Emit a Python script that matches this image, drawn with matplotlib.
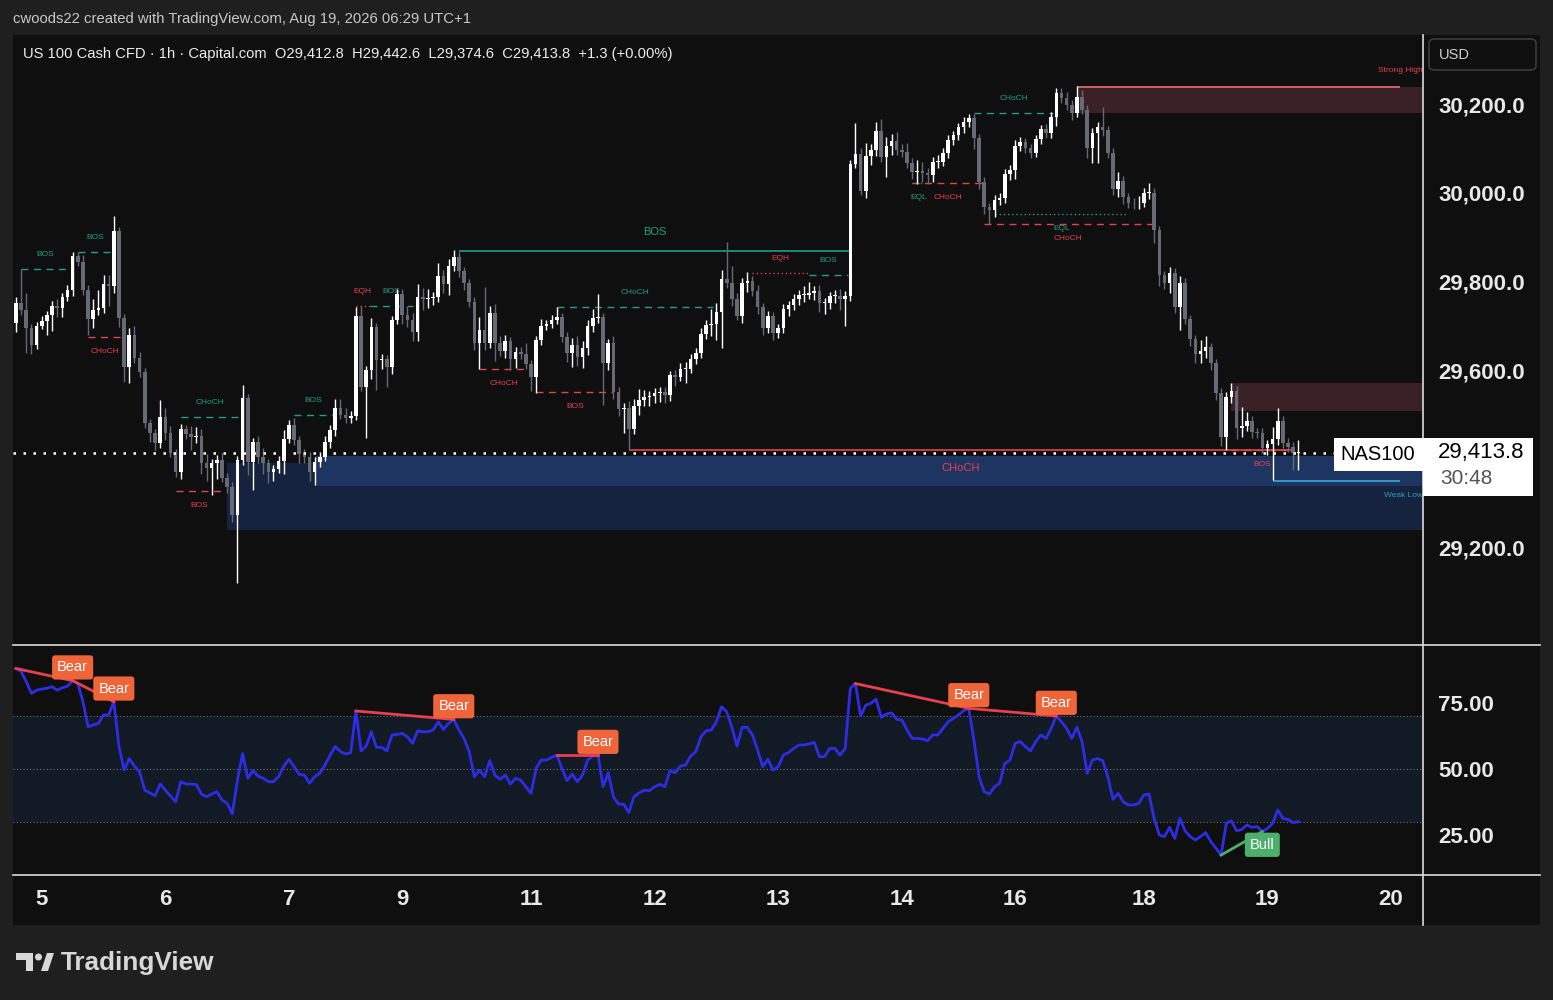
import matplotlib
matplotlib.use('Agg')
import matplotlib.pyplot as plt
import numpy as np
from matplotlib.patches import Rectangle, FancyBboxPatch, Polygon, Ellipse
from matplotlib.lines import Line2D

plt.rcParams['font.family'] = ['Liberation Sans', 'DejaVu Sans']

# ---------------- data (1h bars) ----------------
first_open = 29706
closes = [
    29751, 29735, 29695, 29657, 29700, 29710, 29724, 29745, 29740, 29765,
    29780, 29857, 29845, 29780, 29715, 29735, 29740, 29795, 29790, 29914,
    29717, 29607, 29680, 29627, 29595, 29480, 29458, 29435, 29495, 29458,
    29413, 29370, 29467, 29455, 29450, 29452, 29390, 29380, 29390, 29398,
    29357, 29337, 29273, 29397, 29537, 29393, 29437, 29405, 29390, 29370,
    29377, 29395, 29445, 29476, 29442, 29410, 29405, 29370, 29392, 29405,
    29437, 29466, 29515, 29499, 29493, 29497, 29722, 29562, 29600, 29697,
    29623, 29625, 29607, 29713, 29772, 29724, 29713, 29686, 29765, 29760,
    29762, 29765, 29812, 29794, 29835, 29855, 29823, 29796, 29754, 29661,
    29690, 29661, 29729, 29661, 29643, 29665, 29625, 29641, 29637, 29614,
    29584, 29668, 29700, 29704, 29713, 29720, 29675, 29638, 29657, 29630,
    29650, 29700, 29717, 29719, 29616, 29661, 29551, 29512, 29515, 29467,
    29519, 29533, 29540, 29542, 29548, 29551, 29545, 29589, 29585, 29602,
    29603, 29625, 29638, 29681, 29702, 29704, 29731, 29805, 29796, 29760,
    29722, 29796, 29801, 29778, 29742, 29695, 29722, 29684, 29695, 29738,
    29747, 29760, 29769, 29770, 29774, 29778, 29751, 29752, 29767, 29768,
    29760, 29767, 30065, 30087, 30004, 30083, 30096, 30139, 30081, 30105,
    30117, 30096, 30092, 30067, 30047, 30049, 30045, 30040, 30069, 30070,
    30090, 30119, 30130, 30148, 30159, 30168, 30123, 30024, 29968, 29961,
    29984, 29988, 30042, 30051, 30105, 30114, 30101, 30090, 30121, 30144,
    30135, 30171, 30225, 30213, 30198, 30180, 30216, 30187, 30101, 30135,
    30148, 30141, 30090, 30008, 30026, 29990, 29977, 29976, 29978, 29999,
    30000, 29916, 29814, 29797, 29819, 29742, 29797, 29715, 29670, 29636,
    29643, 29652, 29616, 29548, 29449, 29539, 29553, 29469, 29474, 29485,
    29460, 29459, 29424, 29433, 29444, 29485, 29436, 29427, 29412.8, 29413.8,
]
# wick lengths beyond the body, in index points
upper_wick = [
    14, 77, 40, 10, 8, 12, 10, 10, 15, 10,
    12, 10, 10, 15, 12, 25, 40, 20, 20, 33,
    10, 10, 15, 20, 15, 10, 10, 10, 38, 20,
    15, 10, 12, 10, 20, 20, 15, 20, 10, 10,
    15, 10, 10, 10, 29, 10, 10, 15, 20, 10,
    10, 12, 20, 12, 15, 10, 12, 10, 12, 10,
    15, 10, 20, 20, 15, 10, 20, 22, 10, 20,
    10, 12, 10, 10, 12, 12, 20, 15, 30, 20,
    22, 12, 30, 15, 15, 15, 11, 10, 10, 12,
    30, 97, 15, 20, 15, 15, 10, 12, 12, 25,
    10, 10, 15, 10, 12, 22, 10, 10, 15, 20,
    15, 12, 20, 52, 10, 10, 15, 10, 12, 15,
    15, 25, 15, 10, 12, 10, 10, 10, 12, 15,
    15, 12, 12, 15, 12, 35, 20, 20, 84, 40,
    15, 12, 20, 12, 15, 10, 12, 10, 10, 12,
    10, 12, 12, 20, 25, 12, 15, 10, 10, 12,
    15, 12, 8, 70, 15, 30, 15, 20, 27, 20,
    15, 20, 15, 20, 12, 25, 20, 12, 12, 15,
    10, 12, 10, 10, 12, 9, 10, 10, 12, 10,
    12, 12, 12, 12, 15, 12, 10, 10, 10, 10,
    12, 12, 12, 12, 15, 12, 25, 15, 10, 12,
    12, 45, 10, 10, 20, 12, 10, 12, 15, 12,
    22, 10, 10, 10, 13, 12, 15, 10, 10, 10,
    25, 25, 10, 10, 12, 12, 18, 12, 43, 21,
    12, 10, 10, 10, 28, 29, 12, 12, 10, 28.8,
]
lower_wick = [
    20, 10, 57, 20, 10, 8, 30, 35, 20, 20,
    10, 12, 10, 10, 35, 20, 10, 10, 45, 15,
    20, 34, 35, 10, 10, 10, 20, 15, 10, 15,
    10, 10, 15, 10, 30, 15, 25, 30, 62, 35,
    10, 15, 15, 153, 10, 30, 63, 15, 25, 25,
    20, 10, 30, 10, 10, 20, 15, 20, 29, 10,
    10, 12, 15, 10, 12, 12, 10, 10, 115, 20,
    68, 20, 45, 15, 10, 20, 15, 20, 20, 25,
    20, 15, 12, 20, 25, 12, 12, 15, 12, 15,
    59, 15, 12, 40, 12, 15, 25, 20, 12, 12,
    30, 36, 12, 10, 10, 10, 12, 20, 30, 20,
    25, 15, 15, 10, 95, 15, 15, 15, 54, 47,
    10, 20, 15, 20, 15, 20, 20, 15, 20, 10,
    30, 10, 12, 10, 10, 25, 35, 81, 10, 15,
    10, 15, 20, 10, 15, 15, 12, 15, 12, 12,
    15, 12, 12, 15, 10, 15, 20, 25, 15, 15,
    25, 60, 10, 10, 9, 15, 20, 12, 12, 45,
    20, 10, 12, 12, 15, 27, 20, 20, 15, 12,
    10, 12, 12, 10, 12, 10, 25, 15, 15, 32,
    15, 12, 10, 12, 20, 10, 12, 12, 10, 10,
    12, 12, 20, 10, 12, 15, 10, 10, 23, 34,
    68, 12, 12, 12, 18, 15, 12, 12, 12, 10,
    12, 30, 25, 15, 23, 12, 52, 12, 15, 20,
    20, 15, 15, 15, 20, 29, 12, 25, 20, 12,
    12, 12, 12, 15, 81, 12, 12, 12, 38, 38.2,
]
rsi = [
    88.1, 86.9, 83.1, 78.7, 79.9, 80.3, 80.6, 81.2, 79.9, 80.8,
    81.4, 83.5, 82.4, 75.5, 66.0, 66.7, 67.3, 70.5, 70.5, 75.5,
    58.5, 49.6, 54.0, 51.1, 49.0, 42.0, 41.0, 39.9, 44.3, 42.0,
    39.8, 37.6, 45.2, 44.3, 44.3, 44.2, 40.5, 39.5, 40.5, 41.4,
    38.3, 37.0, 33.0, 45.8, 55.9, 46.5, 49.4, 47.3, 46.5, 45.2,
    45.2, 47.1, 51.1, 53.7, 50.9, 48.0, 47.7, 44.6, 47.1, 48.4,
    51.5, 55.3, 58.5, 56.6, 55.7, 56.2, 72.0, 56.9, 58.7, 64.1,
    58.2, 58.2, 56.9, 62.9, 63.1, 63.5, 62.2, 59.7, 64.5, 64.1,
    64.1, 64.8, 67.9, 65.0, 67.3, 68.8, 64.8, 61.6, 56.6, 47.1,
    49.6, 47.1, 53.2, 47.7, 46.1, 47.7, 44.3, 46.5, 45.8, 43.3,
    40.8, 50.3, 53.4, 53.4, 54.4, 55.3, 50.3, 45.6, 48.1, 45.2,
    47.7, 53.4, 54.9, 55.3, 43.3, 48.6, 39.5, 36.7, 36.7, 33.5,
    39.5, 41.0, 42.0, 41.8, 43.3, 44.2, 43.3, 49.4, 48.6, 51.1,
    51.5, 54.9, 56.6, 62.2, 64.5, 64.8, 67.9, 73.6, 71.7, 65.8,
    58.7, 65.8, 65.8, 62.9, 57.2, 50.9, 53.7, 49.6, 50.9, 55.3,
    56.2, 57.8, 59.1, 59.1, 59.5, 60.1, 54.7, 54.7, 57.8, 57.8,
    55.3, 57.8, 80.6, 82.4, 70.1, 74.2, 74.9, 76.5, 69.6, 70.8,
    71.3, 68.8, 68.6, 64.8, 61.6, 61.6, 61.4, 60.7, 62.9, 62.9,
    65.4, 67.9, 69.2, 70.5, 72.1, 73.0, 61.0, 47.1, 41.4, 40.5,
    43.3, 44.6, 52.1, 53.4, 59.7, 60.4, 58.5, 56.9, 60.4, 62.9,
    61.6, 65.4, 70.1, 67.9, 65.4, 61.6, 65.8, 60.4, 48.4, 53.4,
    54.0, 53.2, 47.1, 38.5, 40.8, 37.6, 36.4, 36.4, 37.0, 40.2,
    40.5, 31.3, 25.0, 24.4, 27.9, 23.7, 31.3, 26.6, 24.4, 23.1,
    24.4, 25.9, 22.5, 20.0, 17.4, 29.4, 30.4, 26.6, 27.1, 28.8,
    27.9, 28.2, 26.3, 27.5, 29.4, 34.5, 31.3, 30.9, 29.7, 30.0,
]

day_bars = [5, 29, 53, 75, 100, 124, 148, 172, 194, 219, 243, 267]
day_labels = ['5', '6', '7', '9', '11', '12', '13', '14', '16', '18', '19', '20']
price_ticks = [29200, 29600, 29800, 30000, 30200]
rsi_ticks = [25, 50, 75]

# market structure: (start bar, end bar, price, side, tag)
structure = [
    (1, 10.5, 29828, 'bull', 'BOS'),
    (12, 18.8, 29866, 'bull', 'BOS'),
    (14, 20.6, 29675, 'bear', 'CHoCH'),
    (32, 43.5, 29494, 'bull', 'CHoCH'),
    (31, 40.2, 29327, 'bear', 'BOS'),
    (54, 61.6, 29499, 'bull', 'BOS'),
    (66, 68.7, 29745, 'bear', 'EQH'),
    (68.7, 77, 29745, 'bull', 'BOS'),
    (90, 99.4, 29602, 'bear', 'CHoCH'),
    (101, 116, 29551, 'bear', 'BOS'),
    (105, 135.3, 29742, 'bull', 'CHoCH'),
    (143, 154, 29819, 'bear', 'EQH'),
    (154, 161.5, 29814, 'bull', 'BOS'),
    (174, 187.8, 30022, 'bear', 'CHoCH'),
    (174, 176.5, 30022, 'bull', 'EQL'),
    (186, 201.4, 30180, 'bull', 'CHoCH'),
    (190, 216, 29952, 'bull', 'EQL'),
    (188, 220.6, 29929, 'bear', 'CHoCH'),
    (236, 248, 29420, 'bear', 'BOS'),
]
major_bos = (86, 162, 29868)
major_choch = (119, 248, 29420)
# zones: (start bar, bottom, top)
demand_outer = (41, 29239, 29390)
demand_inner = (58, 29339, 29406)
supply_high = (206, 30180, 30238)
supply_low = (236, 29508, 29571)
weak_low = (244, 29350)
# rsi divergences: (start bar, end bar)
bear_div = [(0, 11), (11, 19), (66, 85), (105, 113), (163, 185), (185, 202)]
bull_div = [(234, 242)]

# ---------------- layout helpers ----------------
W, H = 1553, 1000
def fx(x):
    return x / W
def fy(y):
    return 1 - y / H

BG = '#0f0f0f'
OUT = '#1f1f1f'
TEAL = '#1fa082'
RED = '#e8404e'
TXT = '#e8e8e8'

fig = plt.figure(figsize=(15.53, 10), dpi=100, facecolor=OUT)
fig.add_artist(Rectangle((fx(13), fy(925)), fx(1540) - fx(13), fy(35) - fy(925),
                         transform=fig.transFigure, fc=BG, ec='none', zorder=0))

ax = fig.add_axes([fx(13), fy(645), fx(1423) - fx(13), fy(35) - fy(645)])
rax = fig.add_axes([fx(13), fy(875), fx(1423) - fx(13), fy(645) - fy(875)])
XL = (-0.58, 273.2)
for a in (ax, rax):
    a.set_facecolor(BG)
    a.set_xlim(*XL)
    for s in a.spines.values():
        s.set_visible(False)
ax.set_ylim(28980, 30356)
rax.set_ylim(9.85, 97)

# ---------------- zones ----------------
for (b, lo_, hi_), fc in [(demand_outer, '#16233f'), (demand_inner, '#1d3560'),
                          (supply_high, '#3a2125'), (supply_low, '#3a2125')]:
    ax.add_patch(Rectangle((b, lo_), XL[1] - b, hi_ - lo_, fc=fc, ec='none', zorder=1))
ax.hlines(supply_high[2], supply_high[0], 268.7, colors='#ef6b75', lw=1.2, zorder=2)
ax.text(XL[1], 30277, 'Strong High', color=RED, fontsize=6, ha='right', va='center')
ax.hlines(weak_low[1], weak_low[0], 268.7, colors='#3aa6dc', lw=1.2, zorder=2)
ax.text(XL[1], 29318, 'Weak Low', color='#2a9fb8', fontsize=6, ha='right', va='center')

# ---------------- structure lines ----------------
for s, e, p, side, tag in structure:
    col = TEAL if side == 'bull' else RED
    ls = (0, (1, 2)) if tag in ('EQH', 'EQL') else (0, (5, 4))
    ax.hlines(p, s, e, colors=col, linestyles=ls, lw=1, zorder=2)
    above = tag == 'EQH' or (side == 'bull' and tag != 'EQL')
    ax.annotate(tag, ((s + e) / 2, p), xytext=(0, 10.5 if above else -10.5),
                textcoords='offset points', ha='center', va='center',
                fontsize=6, color=col)
s, e, p = major_bos
ax.hlines(p, s, e, colors=TEAL, lw=1.2, zorder=2)
ax.annotate('BOS', ((s + e) / 2, p), xytext=(0, 14), textcoords='offset points',
            ha='center', va='center', fontsize=8, color=TEAL)
s, e, p = major_choch
ax.hlines(p, s, e, colors=RED, lw=1.2, zorder=2)
ax.annotate('CHoCH', ((s + e) / 2, p), xytext=(0, -13), textcoords='offset points',
            ha='center', va='center', fontsize=8, color=RED)

# ---------------- candles ----------------
c = np.array(closes, float)
o = np.concatenate([[first_open], c[:-1]])
hi = np.maximum(o, c) + np.array(upper_wick)
lo = np.minimum(o, c) - np.array(lower_wick)
x = np.arange(len(c))
col = np.where(c >= o, '#ffffff', '#676a75')
ax.vlines(x, lo, hi, colors=col, lw=1, zorder=3)
ax.bar(x, np.maximum(np.abs(c - o), 2), bottom=np.minimum(o, c), width=0.7,
       color=col, linewidth=0, zorder=4)

ax.axhline(c[-1], color='white', lw=1.8, ls=(0, (1, 3)), zorder=5)

ax.yaxis.tick_right()
ax.set_yticks(price_ticks)
ax.set_yticklabels([f'{v:,.1f}' for v in price_ticks])
ax.tick_params(axis='y', length=0, pad=11, labelsize=16, colors=TXT)
ax.set_xticks([])
for t in ax.get_yticklabels():
    t.set_fontweight('bold')

# ---------------- RSI ----------------
r = np.array(rsi)
rax.fill_between(XL, 30, 70, color='#111a25', lw=0, zorder=0)
for lvl in (70, 50, 30):
    rax.axhline(lvl, color='#6a6f7c', lw=0.8, ls=(0, (1, 2)), zorder=1)
rax.plot(np.arange(len(r)), r, color='#2d2de6', lw=2, zorder=3)
for s, e in bear_div:
    rax.plot([s, e], [r[s], r[e]], color=RED, lw=2, zorder=4)
    rax.annotate('Bear', (e, r[e]), xytext=(0, 9.5), textcoords='offset points',
                 ha='center', va='center', fontsize=10.5, color='white', zorder=6,
                 bbox=dict(boxstyle='round,pad=0.35,rounding_size=0.2', fc='#f0643a', ec='none'))
for s, e in bull_div:
    rax.plot([s, e], [r[s], r[e]], color='#4caf6a', lw=2, zorder=4)
    rax.annotate('Bull', (e, r[e]), xytext=(0, -9.5), textcoords='offset points',
                 ha='center', va='center', fontsize=10.5, color='white', zorder=6,
                 bbox=dict(boxstyle='round,pad=0.35,rounding_size=0.2', fc='#4caf6a', ec='none'))

rax.yaxis.tick_right()
rax.set_yticks(rsi_ticks)
rax.set_yticklabels([f'{v:.2f}' for v in rsi_ticks])
rax.set_xticks(day_bars)
rax.set_xticklabels(day_labels)
rax.tick_params(axis='both', length=0, labelsize=16, colors=TXT)
rax.tick_params(axis='y', pad=11)
rax.tick_params(axis='x', pad=10)
for t in rax.get_yticklabels() + rax.get_xticklabels():
    t.set_fontweight('bold')

# ---------------- frame lines ----------------
for y in (645, 875):
    fig.add_artist(Line2D([fx(13), fx(1540)], [fy(y), fy(y)], color='#dcdcdc', lw=1.2,
                          transform=fig.transFigure, zorder=8))
fig.add_artist(Line2D([fx(1423), fx(1423)], [fy(35), fy(925)], color='#dcdcdc', lw=1.2,
                      transform=fig.transFigure, zorder=8))

# ---------------- last price label ----------------
fig.canvas.draw()
yc = fig.transFigure.inverted().transform(ax.transData.transform((0, c[-1])))[1]
py = 1 / H
fig.add_artist(Rectangle((fx(1334), yc - 18 * py), fx(1423) - fx(1334), 33 * py,
                         transform=fig.transFigure, fc='white', ec='none', zorder=10))
fig.add_artist(Rectangle((fx(1423), yc - 43 * py), fx(1533) - fx(1423), 58 * py,
                         transform=fig.transFigure, fc='white', ec='none', zorder=10))
fig.text(fx(1378), yc - 2 * py, 'NAS100', fontsize=14.5, color='black',
         ha='center', va='center', zorder=11)
fig.text(fx(1438), yc, f'{c[-1]:,.1f}', fontsize=16, color='black',
         ha='left', va='center', zorder=11)
fig.text(fx(1440), yc - 26 * py, '30:48', fontsize=15, color='#555555',
         ha='left', va='center', zorder=11)

# ---------------- header / legend / currency ----------------
fig.text(fx(13), fy(19), 'cwoods22 created with TradingView.com, Aug 19, 2026 06:29 UTC+1',
         fontsize=10.7, color='#c8c8c8', va='center')
fig.text(fx(23), fy(54),
         'US 100 Cash CFD \u00b7 1h \u00b7 Capital.com  O29,412.8  H29,442.6  L29,374.6  '
         'C29,413.8  +1.3 (+0.00%)', fontsize=10.6, color='#ececec', va='center')
fig.add_artist(FancyBboxPatch((fx(1429), fy(70)), fx(1536) - fx(1429), fy(39) - fy(70),
                              boxstyle='round,pad=0,rounding_size=0.004',
                              transform=fig.transFigure, fc=BG, ec='#3c3c3c', lw=1.2, zorder=9))
fig.text(fx(1439), fy(55), 'USD', fontsize=10.5, color='#d0d0d0', va='center', zorder=10)

# ---------------- TradingView logo ----------------
logo = '#d8d8d8'
fig.add_artist(Polygon([(fx(16), fy(953)), (fx(33), fy(953)), (fx(33), fy(971)),
                        (fx(26), fy(971)), (fx(26), fy(960)), (fx(16), fy(960))],
                       closed=True, transform=fig.transFigure, fc=logo, ec='none'))
fig.add_artist(Ellipse((fx(38.5), fy(957)), 7 / W, 7 / H, transform=fig.transFigure,
                       fc=logo, ec='none'))
fig.add_artist(Polygon([(fx(41), fy(971)), (fx(48), fy(971)), (fx(54), fy(953)),
                        (fx(47), fy(953))], closed=True, transform=fig.transFigure,
                       fc=logo, ec='none'))
fig.text(fx(61), fy(963), 'TradingView', fontsize=18.8, fontweight='bold', color=logo,
         va='center')

fig.savefig('out.png', dpi=100, facecolor=OUT)
